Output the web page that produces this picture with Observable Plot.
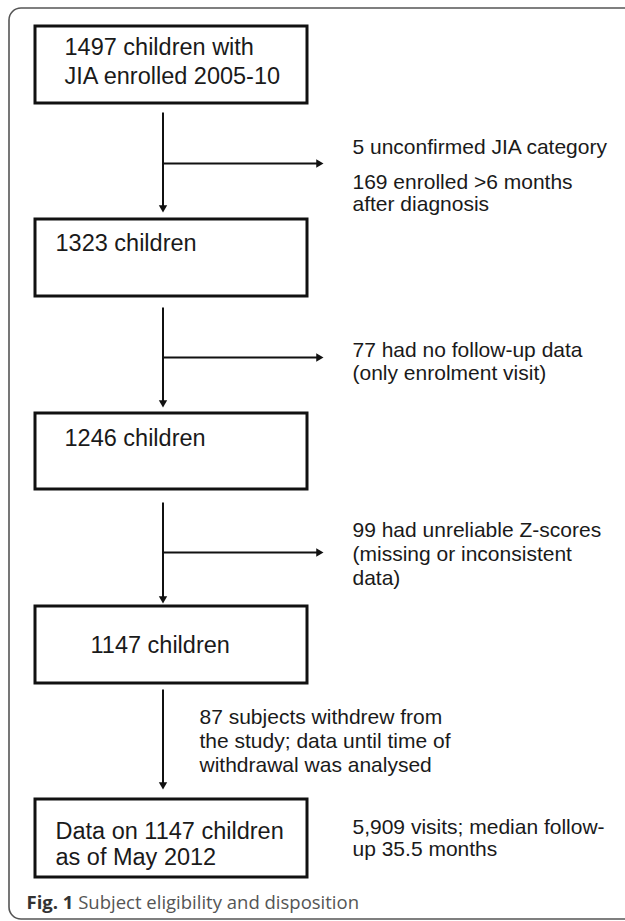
<!DOCTYPE html>
<html><head><meta charset="utf-8">
<script src="https://cdn.jsdelivr.net/npm/d3@7"></script>
<script src="https://cdn.jsdelivr.net/npm/@observablehq/plot@0.6"></script>
<style>html,body{margin:0;padding:0;background:#fff}#chart svg{display:block}</style>
</head><body><div id="chart"></div>
<script>
// ---- data ----
const stageCounts = [1497, 1323, 1246, 1147, 1147];
const stageLabels = [
  "1497 children with\nJIA enrolled 2005-10",
  "1323 children",
  "1246 children",
  "1147 children",
  "Data on 1147 children\nas of May 2012"
];
const noteLabels = [
  "5 unconfirmed JIA category",
  "169 enrolled >6 months\nafter diagnosis",
  "77 had no follow-up data\n(only enrolment visit)",
  "99 had unreliable Z-scores\n(missing or inconsistent\ndata)",
  "87 subjects withdrew from\nthe study; data until time of\nwithdrawal was analysed",
  "5,909 visits; median follow-\nup 35.5 months"
];
const captionBold = "Fig. 1";
const captionText = "Subject eligibility and disposition";

// ---- layout (pixels) ----
const W = 625, H = 921;
const boxX = [35, 307];
const boxY = [[26,103],[219,296],[413,489],[606,683],[799,877]];
const boxTextAnchor = [[64,47,29],[55,243,0],[64,438,0],[90,645,0],[55,831,26]];
const noteAnchor = [[352,147,0],[352,182,22],[352,350,23],[352,530,24],[199,717,24],[352,827,22]];
const arrowX = 162.5;
const arrowY = [[112,212],[307,407],[502,603],[689,789]];
const branchY = [163,357,552];
const branchEnd = 323;
const headR = 4;
const headS = Math.sqrt(Math.PI*headR*headR)*0.6824;
const capSize = 18.5;

const boxes = stageLabels.map((label,i)=>({x1:boxX[0],x2:boxX[1],y1:boxY[i][0],y2:boxY[i][1],count:stageCounts[i]}));
function lines(labels, anchors){
  return labels.flatMap((t,i)=>t.split("\n").map((s,j)=>({text:s,x:anchors[i][0],y:anchors[i][1]+j*anchors[i][2]})));
}
const boxText = lines(stageLabels, boxTextAnchor);
const noteText = lines(noteLabels, noteAnchor);
const vLines = arrowY.map(([a,b])=>({x1:arrowX,x2:arrowX,y1:a,y2:b-headS}));
const hLines = branchY.map(y=>({x1:arrowX,x2:branchEnd-headS,y1:y,y2:y}));
const vHeads = arrowY.map(([a,b])=>({x:arrowX,y:b-headS}));
const hHeads = branchY.map(y=>({x:branchEnd-headS,y}));

const ctx = document.createElement("canvas").getContext("2d");
ctx.font = `bold ${capSize}px 'Open Sans'`;
const boldW = ctx.measureText(captionBold + " ").width;

const font = "Liberation Sans";
const plot = Plot.plot({
  width: W, height: H, margin: 0,
  x: {domain:[0,W], range:[0,W], axis:null},
  y: {domain:[0,H], range:[0,H], axis:null},
  style: {background:"#fff"},
  marks: [
    Plot.rect([{x1:9,x2:W+20,y1:8,y2:919}], {x1:"x1",x2:"x2",y1:"y1",y2:"y2",rx:12,fill:"none",stroke:"#555",strokeWidth:1.6}),
    Plot.rect(boxes, {x1:"x1",x2:"x2",y1:"y1",y2:"y2",fill:"#fff",stroke:"#111",strokeWidth:3}),
    Plot.link(vLines, {x1:"x1",x2:"x2",y1:"y1",y2:"y2",stroke:"#111",strokeWidth:2}),
    Plot.link(hLines, {x1:"x1",x2:"x2",y1:"y1",y2:"y2",stroke:"#111",strokeWidth:2}),
    Plot.dot(vHeads, {x:"x",y:"y",symbol:"triangle2",r:headR,rotate:180,fill:"#111",stroke:"none"}),
    Plot.dot(hHeads, {x:"x",y:"y",symbol:"triangle2",r:headR,rotate:90,fill:"#111",stroke:"none"}),
    Plot.text(boxText, {x:"x",y:"y",text:"text",textAnchor:"start",lineAnchor:"middle",fontSize:23.5,fontFamily:font,fill:"#1a1a1a"}),
    Plot.text(noteText, {x:"x",y:"y",text:"text",textAnchor:"start",lineAnchor:"middle",fontSize:21,fontFamily:font,fill:"#1a1a1a"}),
    Plot.text([captionBold], {x:26,y:903,text:d=>d,textAnchor:"start",lineAnchor:"middle",fontSize:capSize,fontWeight:"bold",fontFamily:"Open Sans",fill:"#333"}),
    Plot.text([captionText], {x:26+boldW,y:903,text:d=>d,textAnchor:"start",lineAnchor:"middle",fontSize:capSize,fontFamily:"Open Sans",fill:"#555"})
  ]
});
document.getElementById("chart").append(plot);
</script></body></html>
